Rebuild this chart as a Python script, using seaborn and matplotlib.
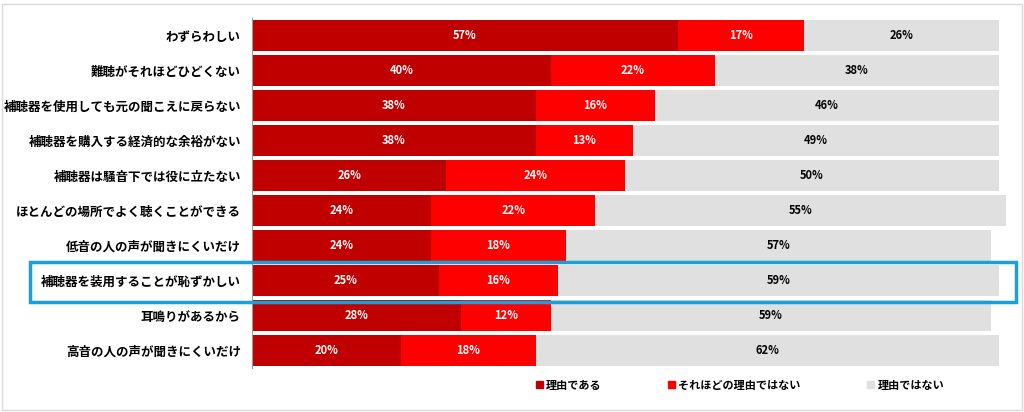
import matplotlib
matplotlib.use("Agg")
import matplotlib.pyplot as plt
import seaborn as sns
import pandas as pd
import numpy as np
from matplotlib.patches import Rectangle, Patch

plt.rcParams["font.family"] = "Noto Sans CJK JP"

categories = ["わずらわしい", "難聴がそれほどひどくない", "補聴器を使用しても元の聞こえに戻らない",
              "補聴器を購入する経済的な余裕がない", "補聴器は騒音下では役に立たない",
              "ほとんどの場所でよく聴くことができる", "低音の人の声が聞きにくいだけ",
              "補聴器を装用することが恥ずかしい", "耳鳴りがあるから", "高音の人の声が聞きにくいだけ"]
reason = [57, 40, 38, 38, 26, 24, 24, 25, 28, 20]
partial = [17, 22, 16, 13, 24, 22, 18, 16, 12, 18]
notreason = [26, 38, 46, 49, 50, 55, 57, 59, 59, 62]
series_names = ["理由である", "それほどの理由ではない", "理由ではない"]
colors = ["#c00000", "#ff0000", "#e0e0e0"]

df = pd.DataFrame({"cat": categories, "a": reason, "b": partial, "c": notreason})
df["ab"] = df["a"] + df["b"]
df["abc"] = df["ab"] + df["c"]

fig = plt.figure(figsize=(10.24, 4.12), dpi=100)
ax = fig.add_axes([252/1024, 1-368/412, (1006-252)/1024, (368-18)/412])
for col, c in [("abc", colors[2]), ("ab", colors[1]), ("a", colors[0])]:
    sns.barplot(data=df, y="cat", x=col, color=c, orient="h", width=0.88,
                saturation=1, ax=ax, edgecolor="none")
ax.set_xlim(0, df["abc"].max())
ax.set_xlabel(""); ax.set_ylabel("")
ax.set_xticks([])
for s in ["top", "right", "bottom"]:
    ax.spines[s].set_visible(False)
ax.spines["left"].set_color("#999999")
ax.tick_params(axis="y", length=0, pad=8, labelsize=9)
for lab in ax.get_yticklabels():
    lab.set_fontweight("bold")

for i, r in df.iterrows():
    ax.text(r["a"]/2, i, f'{r["a"]}%', ha="center", va="center", color="white", fontsize=8, fontweight="bold")
    ax.text(r["a"]+r["b"]/2, i, f'{r["b"]}%', ha="center", va="center", color="white", fontsize=8, fontweight="bold")
    ax.text(r["ab"]+r["c"]/2, i, f'{r["c"]}%', ha="center", va="center", color="black", fontsize=8, fontweight="bold")

# highlight box
fig.patches.append(Rectangle((30/1024, 1-302/412), (1016-30)/1024, 40/412, transform=fig.transFigure,
                             fill=False, edgecolor="#1a9fd8", linewidth=2.5))
fig.patches.append(Rectangle((2/1024, 2/412), 1020/1024, 406/412, transform=fig.transFigure,
                             fill=False, edgecolor="#d9d9d9", linewidth=1))

handles = [Patch(color=c) for c in colors]
fig.legend(handles, series_names, loc="center", bbox_to_anchor=(740/1024, 1-385/412), ncol=3,
           frameon=False, fontsize=8, handlelength=0.6, handleheight=0.6, columnspacing=6,
           handletextpad=0.3, prop={"weight": "bold", "size": 8})
fig.savefig("out.png", dpi=100)
